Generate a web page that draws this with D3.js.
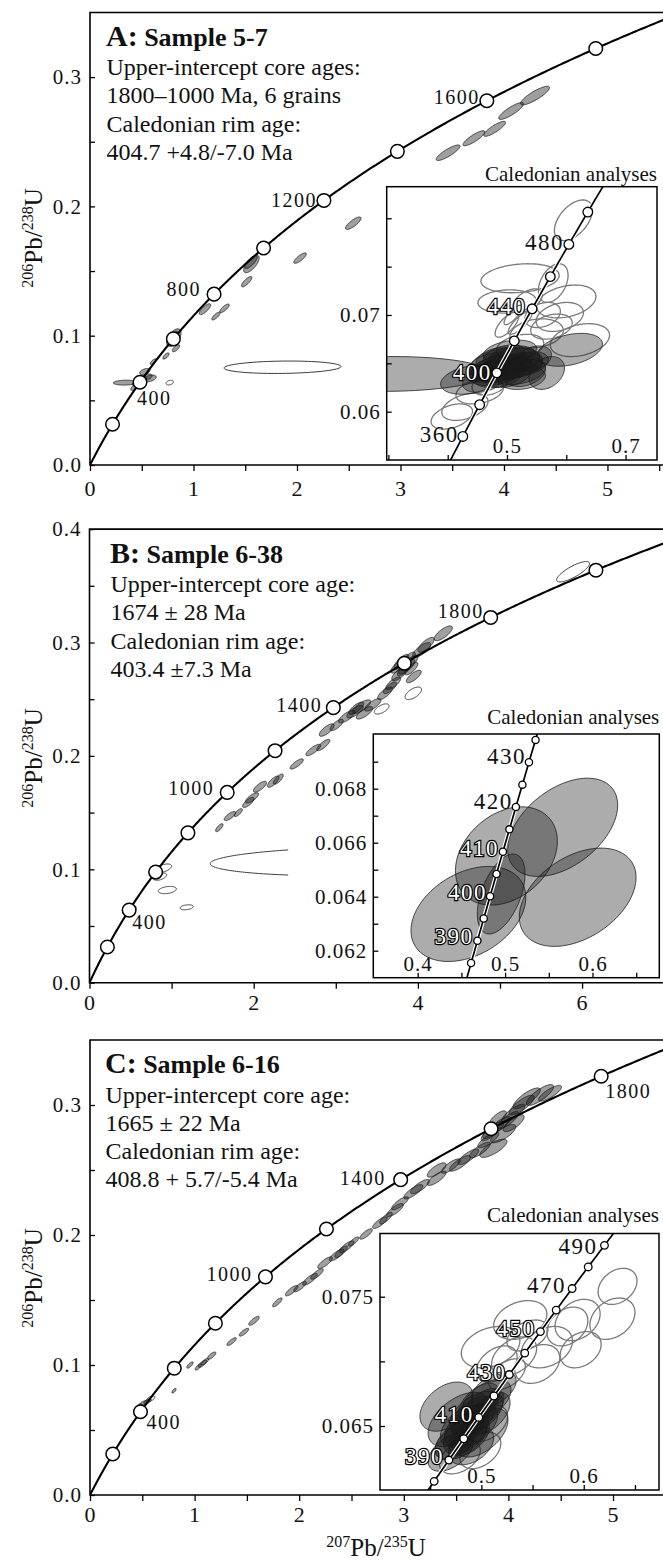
<!DOCTYPE html>
<html>
<head>
<meta charset="utf-8">
<script src="https://cdn.jsdelivr.net/npm/d3@7"></script>
<style>
  body { margin: 0; background: #fff; }
  svg { display: block; }
</style>
</head>
<body>
<script>
// U decay constants (1/yr) for the concordia curve
const L238 = 1.55125e-10, L235 = 9.8485e-10;

// ---------- data: panel A (sample 5-7) ----------
const titleA = ["A:", " Sample 5-7"];
const notesA = ["Upper-intercept core ages:", "1800\u20131000 Ma, 6 grains", "Caledonian rim age:", "404.7 +4.8/-7.0 Ma"];
const xTicksA = [0, 0.5, 1, 1.5, 2, 2.5, 3, 3.5, 4, 4.5, 5, 5.5];
const xLabelsA = [0, 1, 2, 3, 4, 5];
const yTicksA = [0, 0.05, 0.1, 0.15, 0.2, 0.25, 0.3];
const yLabelsA = [0, 0.1, 0.2, 0.3];
const agesA = [200, 400, 600, 800, 1000, 1200, 1400, 1600, 1800];
const ageLabelsA = [400, 800, 1200, 1600];
// [207Pb/235U, 206Pb/238U, err x, err y, rho, filled]
const ellipsesA = [
  [1.86, 0.0756, 0.565, 0.0048, 0.12, 0],
  [2.544, 0.187, 0.075, 0.0048, 0.8, 1],
  [2.03, 0.160, 0.06, 0.004, 0.8, 1],
  [1.56, 0.1555, 0.075, 0.0068, 0.7, 1],
  [1.555, 0.157, 0.06, 0.005, 0.75, 1],
  [1.514, 0.1418, 0.05, 0.004, 0.8, 1],
  [1.111, 0.1205, 0.055, 0.0042, 0.78, 1],
  [1.217, 0.1152, 0.04, 0.003, 0.78, 1],
  [1.30, 0.1212, 0.045, 0.0033, 0.78, 1],
  [0.81, 0.0985, 0.07, 0.0068, 0.55, 1],
  [0.80, 0.099, 0.05, 0.0045, 0.7, 1],
  [0.831, 0.0903, 0.035, 0.0027, 0.7, 1],
  [0.734, 0.0843, 0.03, 0.0024, 0.7, 1],
  [0.612, 0.0799, 0.03, 0.0022, 0.7, 1],
  [0.34, 0.0637, 0.115, 0.0019, 0.1, 1],
  [0.53, 0.0722, 0.05, 0.0024, 0.45, 1],
  [0.58, 0.067, 0.06, 0.0026, 0.4, 1],
  [0.46, 0.0635, 0.05, 0.0026, 0.45, 1],
  [0.43, 0.0600, 0.035, 0.0024, 0.55, 1],
  [0.50, 0.066, 0.045, 0.0026, 0.45, 1],
  [0.55, 0.068, 0.05, 0.0024, 0.4, 1],
  [0.77, 0.0637, 0.035, 0.0018, 0.3, 0],
  [3.46, 0.2415, 0.115, 0.006, 0.85, 1],
  [3.71, 0.2527, 0.105, 0.0058, 0.85, 1],
  [3.91, 0.2600, 0.105, 0.0058, 0.85, 1],
  [4.07, 0.2738, 0.12, 0.0065, 0.85, 1],
  [4.30, 0.2857, 0.14, 0.0072, 0.85, 1]
];
const insetXTicksA = [0.3, 0.4, 0.5, 0.6, 0.7];
const insetXLabelsA = [0.5, 0.7];
const insetYTicksA = [0.06, 0.065, 0.07, 0.075, 0.08];
const insetYLabelsA = [0.06, 0.07];
const insetAgesA = [360, 380, 400, 420, 440, 460, 480, 500];
const insetAgeLabelsA = [360, 400, 440, 480];
const insetEllipsesA = [
  [0.30, 0.0639, 0.17, 0.0018, 0.05, 1],
  [0.606, 0.0664, 0.055, 0.0017, 0.35, 1],
  [0.567, 0.0640, 0.030, 0.0017, 0.3, 1],
  [0.438, 0.0633, 0.050, 0.0015, 0.3, 1],
  [0.50, 0.0650, 0.06, 0.0016, 0.2, 1],
  [0.49, 0.0645, 0.05, 0.0014, 0.3, 1],
  [0.51, 0.0652, 0.045, 0.0014, 0.3, 1],
  [0.48, 0.0640, 0.045, 0.0013, 0.3, 1],
  [0.52, 0.0648, 0.04, 0.0013, 0.3, 1],
  [0.50, 0.0638, 0.04, 0.0013, 0.3, 1],
  [0.495, 0.0658, 0.035, 0.0011, 0.4, 1],
  [0.46, 0.0632, 0.035, 0.0012, 0.3, 1],
  [0.53, 0.0640, 0.035, 0.0014, 0.3, 1],
  [0.545, 0.0655, 0.03, 0.0013, 0.3, 1],
  [0.505, 0.0662, 0.045, 0.0012, 0.3, 1],
  [0.475, 0.0648, 0.04, 0.0013, 0.3, 1],
  [0.525, 0.0635, 0.04, 0.0012, 0.2, 1],
  [0.515, 0.0643, 0.05, 0.0015, 0.2, 1],
  [0.488, 0.0655, 0.04, 0.0012, 0.3, 1],
  [0.498, 0.0646, 0.045, 0.0012, 0.3, 1],
  [0.508, 0.0656, 0.04, 0.0012, 0.3, 1],
  [0.485, 0.0636, 0.04, 0.0011, 0.3, 1],
  [0.535, 0.0650, 0.035, 0.0012, 0.3, 1],
  [0.470, 0.0642, 0.035, 0.0012, 0.3, 1],
  [0.612, 0.0798, 0.032, 0.0021, 0.5, 0],
  [0.522, 0.0738, 0.066, 0.0015, 0.2, 0],
  [0.578, 0.0733, 0.025, 0.0020, 0.4, 0],
  [0.500, 0.0714, 0.049, 0.0012, 0.1, 0],
  [0.600, 0.0714, 0.050, 0.0017, 0.3, 0],
  [0.589, 0.0698, 0.040, 0.0015, 0.3, 0],
  [0.623, 0.0674, 0.050, 0.0017, 0.3, 0],
  [0.550, 0.0681, 0.045, 0.0015, 0.2, 0],
  [0.522, 0.0667, 0.040, 0.0013, 0.3, 0],
  [0.429, 0.0605, 0.039, 0.0014, 0.4, 0],
  [0.454, 0.0621, 0.040, 0.0013, 0.3, 0],
  [0.407, 0.0595, 0.035, 0.0013, 0.4, 0],
  [0.471, 0.0629, 0.030, 0.0012, 0.3, 0],
  [0.522, 0.0692, 0.020, 0.0012, 0.8, 0],
  [0.510, 0.0700, 0.015, 0.0010, 0.8, 0],
  [0.535, 0.0715, 0.025, 0.0012, 0.5, 0],
  [0.560, 0.0700, 0.030, 0.0013, 0.3, 0],
  [0.575, 0.0688, 0.035, 0.0013, 0.3, 0],
  [0.500, 0.0690, 0.020, 0.0013, 0.7, 0]
];

// ---------- data: panel B (sample 6-38) ----------
const titleB = ["B:", " Sample 6-38"];
const notesB = ["Upper-intercept core age:", "1674 \u00b1 28 Ma", "Caledonian rim age:", "403.4 \u00b17.3 Ma"];
const xTicksB = [0, 1, 2, 3, 4, 5, 6, 7];
const xLabelsB = [0, 2, 4, 6];
const yTicksB = [0, 0.05, 0.1, 0.15, 0.2, 0.25, 0.3, 0.35, 0.4];
const yLabelsB = [0, 0.1, 0.2, 0.3, 0.4];
const agesB = [200, 400, 600, 800, 1000, 1200, 1400, 1600, 1800, 2000];
const ageLabelsB = [400, 1000, 1400, 1800];
const ellipsesB = [
  [0.948, 0.0817, 0.11, 0.0032, 0.3, 0],
  [1.184, 0.0665, 0.08, 0.0022, 0.3, 0],
  [0.90, 0.1009, 0.10, 0.0038, 0.5, 0],
  [0.86, 0.0935, 0.08, 0.0032, 0.5, 0],
  [3.3, 0.107, 1.83, 0.0128, 0.16, 0, 2.42],
  [0.49, 0.0655, 0.08, 0.0024, 0.4, 0],
  [0.50, 0.0640, 0.07, 0.0022, 0.4, 0],
  [0.47, 0.0660, 0.06, 0.002, 0.3, 1],
  [1.581, 0.1367, 0.045, 0.0035, 0.75, 1],
  [1.711, 0.1470, 0.07, 0.004, 0.75, 1],
  [1.812, 0.1500, 0.05, 0.0035, 0.75, 1],
  [1.935, 0.1590, 0.07, 0.0045, 0.75, 1],
  [1.98, 0.1630, 0.08, 0.0045, 0.75, 1],
  [2.077, 0.1728, 0.08, 0.0048, 0.75, 1],
  [2.239, 0.1773, 0.07, 0.005, 0.75, 1],
  [2.30, 0.1795, 0.06, 0.0045, 0.75, 1],
  [2.524, 0.1929, 0.08, 0.0045, 0.8, 1],
  [2.726, 0.2052, 0.09, 0.005, 0.8, 1],
  [2.848, 0.2096, 0.08, 0.005, 0.8, 1],
  [2.889, 0.2228, 0.09, 0.0055, 0.75, 1],
  [3.011, 0.2273, 0.08, 0.005, 0.75, 1],
  [3.133, 0.2346, 0.10, 0.0055, 0.75, 1],
  [3.234, 0.2390, 0.10, 0.0055, 0.75, 1],
  [3.315, 0.2434, 0.11, 0.006, 0.75, 1],
  [3.35, 0.2380, 0.10, 0.0055, 0.75, 1],
  [3.45, 0.2450, 0.10, 0.0055, 0.75, 1],
  [3.25, 0.2420, 0.09, 0.0055, 0.75, 1],
  [3.559, 0.2414, 0.09, 0.0045, 0.6, 0],
  [3.944, 0.2552, 0.10, 0.0055, 0.6, 0],
  [3.60, 0.2552, 0.09, 0.0055, 0.75, 1],
  [3.70, 0.2640, 0.09, 0.0055, 0.75, 1],
  [3.66, 0.2600, 0.08, 0.005, 0.75, 1],
  [3.782, 0.2728, 0.10, 0.0065, 0.75, 1],
  [3.863, 0.2787, 0.10, 0.0065, 0.75, 1],
  [3.83, 0.2760, 0.08, 0.0055, 0.75, 1],
  [3.90, 0.2820, 0.10, 0.0065, 0.75, 1],
  [3.95, 0.2700, 0.09, 0.0055, 0.75, 1],
  [3.80, 0.2830, 0.09, 0.0065, 0.75, 1],
  [3.88, 0.2850, 0.09, 0.0065, 0.75, 1],
  [3.76, 0.2790, 0.09, 0.006, 0.75, 1],
  [3.92, 0.2770, 0.08, 0.0055, 0.75, 1],
  [4.046, 0.2934, 0.11, 0.0065, 0.75, 1],
  [4.10, 0.2980, 0.10, 0.0065, 0.75, 1],
  [4.31, 0.3081, 0.11, 0.0065, 0.75, 1],
  [5.89, 0.3624, 0.20, 0.009, 0.8, 0]
];
const insetXTicksB = [0.4, 0.45, 0.5, 0.55, 0.6, 0.65];
const insetXLabelsB = [0.4, 0.5, 0.6];
const insetYTicksB = [0.062, 0.063, 0.064, 0.065, 0.066, 0.067, 0.068, 0.069];
const insetYLabelsB = [0.062, 0.064, 0.066, 0.068];
const insetAgesB = [385, 390, 395, 400, 405, 410, 415, 420, 425, 430, 435];
const insetAgeLabelsB = [390, 400, 410, 420, 430];
const insetEllipsesB = [
  [0.5659, 0.06657, 0.0629, 0.00182, 0.45, 1],
  [0.583, 0.06398, 0.0668, 0.00182, 0.4, 1],
  [0.5015, 0.06551, 0.0583, 0.00182, 0.3, 1],
  [0.458, 0.06336, 0.0657, 0.00176, 0.35, 1],
  [0.4955, 0.0641, 0.0273, 0.00148, 0.5, 1]
];

// ---------- data: panel C (sample 6-16) ----------
const titleC = ["C:", " Sample 6-16"];
const notesC = ["Upper-intercept core age:", "1665 \u00b1 22 Ma", "Caledonian rim age:", "408.8 + 5.7/-5.4 Ma"];
const xTicksC = [0, 0.5, 1, 1.5, 2, 2.5, 3, 3.5, 4, 4.5, 5, 5.5];
const xLabelsC = [0, 1, 2, 3, 4, 5];
const yTicksC = [0, 0.05, 0.1, 0.15, 0.2, 0.25, 0.3];
const yLabelsC = [0, 0.1, 0.2, 0.3];
const agesC = [200, 400, 600, 800, 1000, 1200, 1400, 1600, 1800];
const ageLabelsC = [400, 1000, 1400, 1800];
const ellipsesC = [
  [0.803, 0.0802, 0.02, 0.0018, 0.7, 1],
  [0.956, 0.1000, 0.03, 0.0024, 0.75, 1],
  [1.036, 0.0985, 0.03, 0.0024, 0.75, 1],
  [1.075, 0.1010, 0.04, 0.0028, 0.75, 1],
  [1.099, 0.1026, 0.035, 0.0024, 0.75, 1],
  [1.163, 0.1072, 0.04, 0.0028, 0.75, 1],
  [1.354, 0.1180, 0.045, 0.003, 0.8, 1],
  [1.472, 0.1252, 0.045, 0.003, 0.8, 1],
  [1.568, 0.1340, 0.05, 0.0034, 0.8, 1],
  [1.791, 0.1482, 0.045, 0.0034, 0.8, 1],
  [1.928, 0.1572, 0.06, 0.004, 0.8, 1],
  [2.008, 0.1603, 0.06, 0.004, 0.8, 1],
  [2.103, 0.1659, 0.07, 0.0045, 0.8, 1],
  [2.17, 0.1700, 0.06, 0.004, 0.8, 1],
  [2.247, 0.1787, 0.07, 0.0045, 0.8, 1],
  [2.358, 0.1846, 0.07, 0.0045, 0.8, 1],
  [2.40, 0.1870, 0.06, 0.0045, 0.8, 1],
  [2.454, 0.1910, 0.07, 0.0045, 0.8, 1],
  [2.52, 0.1950, 0.05, 0.0035, 0.8, 1],
  [2.639, 0.2008, 0.06, 0.004, 0.8, 1],
  [2.772, 0.2095, 0.07, 0.0045, 0.8, 1],
  [2.83, 0.2130, 0.06, 0.0045, 0.8, 1],
  [2.916, 0.2192, 0.08, 0.005, 0.8, 1],
  [2.964, 0.2244, 0.08, 0.005, 0.8, 1],
  [3.091, 0.2333, 0.09, 0.0055, 0.8, 1],
  [3.155, 0.2372, 0.09, 0.0055, 0.8, 1],
  [3.314, 0.2436, 0.09, 0.0055, 0.8, 1],
  [3.314, 0.2500, 0.09, 0.0055, 0.75, 1],
  [3.45, 0.2530, 0.09, 0.0055, 0.8, 1],
  [3.537, 0.2551, 0.10, 0.006, 0.8, 1],
  [3.617, 0.2602, 0.10, 0.006, 0.8, 1],
  [3.728, 0.2654, 0.10, 0.006, 0.8, 1],
  [3.856, 0.2667, 0.13, 0.007, 0.75, 1],
  [3.808, 0.2731, 0.10, 0.006, 0.8, 1],
  [3.856, 0.2808, 0.10, 0.0065, 0.8, 1],
  [3.92, 0.2846, 0.10, 0.0065, 0.8, 1],
  [3.999, 0.2885, 0.10, 0.0065, 0.8, 1],
  [4.047, 0.2936, 0.11, 0.007, 0.8, 1],
  [4.127, 0.3000, 0.12, 0.0075, 0.8, 1],
  [4.175, 0.3051, 0.13, 0.008, 0.8, 1],
  [4.302, 0.3077, 0.13, 0.008, 0.8, 1],
  [4.398, 0.3090, 0.11, 0.006, 0.8, 1],
  [3.95, 0.2780, 0.12, 0.007, 0.75, 1],
  [3.82, 0.2780, 0.08, 0.0055, 0.75, 1],
  [4.05, 0.2860, 0.10, 0.0065, 0.75, 1],
  [3.90, 0.2900, 0.08, 0.0055, 0.75, 1],
  [0.51, 0.0705, 0.04, 0.0022, 0.65, 1],
  [0.55, 0.0720, 0.035, 0.0022, 0.65, 1],
  [0.47, 0.0680, 0.03, 0.0022, 0.65, 1],
  [0.58, 0.0740, 0.04, 0.0022, 0.6, 0]
];
const insetXTicksC = [0.45, 0.5, 0.55, 0.6, 0.65];
const insetXLabelsC = [0.5, 0.6];
const insetYTicksC = [0.065, 0.07, 0.075];
const insetYLabelsC = [0.065, 0.075];
const insetAgesC = [380, 390, 400, 410, 420, 430, 440, 450, 460, 470, 480, 490];
const insetAgeLabelsC = [390, 410, 430, 450, 470, 490];
const insetEllipsesC = [
  [0.470, 0.0630, 0.022, 0.0015, 0.5, 1],
  [0.480, 0.0640, 0.025, 0.0016, 0.5, 1],
  [0.490, 0.0650, 0.026, 0.0017, 0.5, 1],
  [0.495, 0.0660, 0.026, 0.0017, 0.5, 1],
  [0.505, 0.0670, 0.024, 0.0016, 0.5, 1],
  [0.512, 0.0678, 0.022, 0.0014, 0.5, 1],
  [0.466, 0.0665, 0.026, 0.0019, 0.4, 1],
  [0.500, 0.0645, 0.026, 0.0019, 0.5, 1],
  [0.478, 0.0655, 0.030, 0.0021, 0.5, 1],
  [0.490, 0.0635, 0.022, 0.0015, 0.4, 1],
  [0.485, 0.0645, 0.022, 0.0017, 0.5, 1],
  [0.498, 0.0668, 0.020, 0.0015, 0.5, 1],
  [0.475, 0.0638, 0.020, 0.0014, 0.5, 1],
  [0.508, 0.0660, 0.020, 0.0016, 0.5, 1],
  [0.482, 0.0650, 0.022, 0.0016, 0.5, 1],
  [0.492, 0.0657, 0.022, 0.0016, 0.5, 1],
  [0.488, 0.0642, 0.020, 0.0015, 0.5, 1],
  [0.502, 0.0664, 0.020, 0.0015, 0.5, 1],
  [0.633, 0.0758, 0.019, 0.0014, 0.3, 0],
  [0.628, 0.0733, 0.022, 0.0016, 0.3, 0],
  [0.594, 0.0732, 0.022, 0.0016, 0.3, 0],
  [0.538, 0.0732, 0.026, 0.0015, 0.3, 0],
  [0.509, 0.0711, 0.0286, 0.0016, 0.3, 0],
  [0.564, 0.0711, 0.025, 0.0016, 0.3, 0],
  [0.5546, 0.0698, 0.022, 0.0015, 0.3, 0],
  [0.532, 0.0704, 0.022, 0.0015, 0.4, 0],
  [0.515, 0.0698, 0.020, 0.0014, 0.4, 0],
  [0.584, 0.0727, 0.020, 0.0015, 0.3, 0],
  [0.499, 0.0631, 0.020, 0.0014, 0.4, 0],
  [0.479, 0.0626, 0.020, 0.0013, 0.4, 0],
  [0.5056, 0.0652, 0.020, 0.0014, 0.4, 0],
  [0.597, 0.0709, 0.020, 0.0014, 0.3, 0],
  [0.545, 0.0720, 0.020, 0.0012, 0.4, 0],
  [0.525, 0.0690, 0.018, 0.0012, 0.5, 0]
];

// ---------- layout (pixels) ----------
const SERIF = "'Liberation Serif', 'Times New Roman', serif";
const W = 663, H = 1561;

const panels = [
  {
    id: "A", title: titleA, notes: notesA, titleX: 106, titleY: 45.7, notesY: 75, lineH: 28.4,
    yTitleY: 238,
    xDomain: [0, 5.556], xRange: [90, 665], yDomain: [0, 0.35], yRange: [465, 12.45],
    xTicks: xTicksA, xLabels: xLabelsA, xFmt: d3.format("d"), xPad: 9,
    yTicks: yTicksA, yLabels: yLabelsA, yFmt: d3.format(".1f"),
    ages: agesA, ageLabels: ageLabelsA, ellipses: ellipsesA,
    labelPos: { 400: ["start", -3, 23], 800: ["end", -13, 2], 1200: ["end", -7, 7], 1600: ["end", -7, 3] },
    inset: {
      xDomain: [0.2971, 0.7530], xRange: [386.7, 657], yDomain: [0.0550, 0.08327], yRange: [460, 186.7],
      xTicks: insetXTicksA, xLabels: insetXLabelsA, xFmt: d3.format(".1f"),
      yTicks: insetYTicksA, yLabels: insetYLabelsA, yFmt: d3.format(".2f"),
      ages: insetAgesA, ageLabels: insetAgeLabelsA, ellipses: insetEllipsesA, r: 4.8, capY: 180.7,
      labelPos: { 360: ["end", -4, 6, 0], 400: ["end", -5, 7, 1], 440: ["end", -6, 5, 1], 480: ["end", -5, 6, 0] }
    }
  },
  {
    id: "B", title: titleB, notes: notesB, titleX: 110, titleY: 562.7, notesY: 591.7, lineH: 28.4,
    yTitleY: 758,
    xDomain: [0, 7.01], xRange: [89.5, 665], yDomain: [0, 0.4], yRange: [982.7, 529.1],
    xTicks: xTicksB, xLabels: xLabelsB, xFmt: d3.format("d"), xPad: 5.5,
    yTicks: yTicksB, yLabels: yLabelsB, yFmt: d3.format(".1f"),
    ages: agesB, ageLabels: ageLabelsB, ellipses: ellipsesB,
    labelPos: { 400: ["start", 3, 19], 1000: ["end", -13, 3], 1400: ["end", -11, 4], 1800: ["end", -7, 1] },
    inset: {
      xDomain: [0.3492, 0.6764], xRange: [373.3, 659.3], yDomain: [0.0610, 0.070026], yRange: [977.7, 734],
      xTicks: insetXTicksB, xLabels: insetXLabelsB, xFmt: d3.format(".1f"),
      yTicks: insetYTicksB, yLabels: insetYLabelsB, yFmt: d3.format(".3f"),
      ages: insetAgesB, ageLabels: insetAgeLabelsB, ellipses: insetEllipsesB, r: 3.6, capY: 724.3,
      labelPos: { 390: ["end", -4, 3, 1], 400: ["end", -3, 4, 1], 410: ["end", -4, 4, 1], 420: ["end", -3, 2, 0], 430: ["end", -3, 2, 0] }
    }
  },
  {
    id: "C", title: titleC, notes: notesC, titleX: 105, titleY: 1073.3, notesY: 1102.7, lineH: 28.2,
    yTitleY: 1278,
    xDomain: [0, 5.497], xRange: [90, 665], yDomain: [0, 0.35], yRange: [1495, 1040],
    xTicks: xTicksC, xLabels: xLabelsC, xFmt: d3.format("d"), xPad: 5.5,
    yTicks: yTicksC, yLabels: yLabelsC, yFmt: d3.format(".1f"),
    ages: agesC, ageLabels: ageLabelsC, ellipses: ellipsesC,
    labelPos: { 400: ["start", 6, 17], 1000: ["end", -13, 4], 1400: ["end", -15, 5], 1800: ["start", 4, 22] },
    inset: {
      xDomain: [0.401, 0.6735], xRange: [380, 659], yDomain: [0.06005, 0.07989], yRange: [1490, 1233.5],
      xTicks: insetXTicksC, xLabels: insetXLabelsC, xFmt: d3.format(".1f"),
      yTicks: insetYTicksC, yLabels: insetYLabelsC, yFmt: d3.format(".3f"),
      ages: insetAgesC, ageLabels: insetAgeLabelsC, ellipses: insetEllipsesC, r: 3.8, capY: 1221.7,
      labelPos: { 390: ["end", -5, 4, 1], 410: ["end", -5, 5, 1], 430: ["end", -3, 5, 1], 450: ["end", -5, 4, 1], 470: ["end", -6, 4, 0], 490: ["end", -7, 9, 0] }
    }
  }
];

// ---------- helpers ----------
function concordia(t) {
  return [Math.expm1(L235 * t * 1e6), Math.expm1(L238 * t * 1e6)];
}

function ellipsePath(e, x, y) {
  const [cx, cy, sx, sy, rho, , maxX] = e;
  const k = Math.sqrt(1 - rho * rho);
  let t0 = 0, t1 = 2 * Math.PI, closed = true, n = 96;
  if (maxX !== undefined) {
    t0 = Math.acos((maxX - cx) / sx);
    t1 = 2 * Math.PI - t0;
    closed = false;
  }
  const pts = d3.range(closed ? n : n + 1).map(i => {
    const t = t0 + (t1 - t0) * i / n;
    const c = Math.cos(t), s = Math.sin(t);
    return [x(cx + sx * c), y(cy + sy * (rho * c + k * s))];
  });
  return (closed ? d3.line().curve(d3.curveLinearClosed) : d3.line())(pts);
}

const has = (arr, v) => arr.some(a => Math.abs(a - v) < 1e-9);

const svg = d3.select("body").append("svg")
  .attr("width", W).attr("height", H)
  .style("font-family", SERIF);

function drawPlot(g, p, clipId, isInset) {
  const x = d3.scaleLinear().domain(p.xDomain).range(p.xRange);
  const y = d3.scaleLinear().domain(p.yDomain).range(p.yRange);
  const [L, R] = p.xRange, [B, T] = p.yRange;

  svg.append("clipPath").attr("id", clipId)
    .append("rect").attr("x", L).attr("y", T).attr("width", R - L).attr("height", B - T);

  if (isInset) {
    g.append("rect").attr("x", L).attr("y", T).attr("width", R - L).attr("height", B - T)
      .attr("fill", "#fff");
  }

  const plot = g.append("g").attr("clip-path", `url(#${clipId})`);

  // error ellipses: open ones first, filled on top
  const order = p.ellipses.slice().sort((a, b) => a[5] - b[5]);
  plot.selectAll("path.ell").data(order).join("path")
    .attr("class", "ell")
    .attr("d", d => ellipsePath(d, x, y))
    .attr("fill", d => d[5] ? "#1a1a1a" : "none")
    .attr("fill-opacity", d => d[5] ? (isInset ? 0.36 : 0.42) : null)
    .attr("stroke", d => d[5] ? "#1f1f1f" : (isInset ? "#7a7a7a" : "#3a3a3a"))
    .attr("stroke-width", d => d[5] ? 0.8 : (isInset ? 1.3 : 1));

  // concordia curve
  const tRange = isInset ? d3.range(300, 561, 1) : d3.range(0, 2400, 4);
  const line = d3.line().x(t => x(concordia(t)[0])).y(t => y(concordia(t)[1]));
  if (isInset) {
    plot.append("path").attr("d", line(tRange)).attr("fill", "none")
      .attr("stroke", "#fff").attr("stroke-width", 4);
  }
  plot.append("path").attr("d", line(tRange)).attr("fill", "none")
    .attr("stroke", "#000").attr("stroke-width", isInset ? 1.7 : 2.1);

  // age markers
  plot.selectAll("circle.age").data(p.ages).join("circle")
    .attr("class", "age")
    .attr("cx", t => x(concordia(t)[0]))
    .attr("cy", t => y(concordia(t)[1]))
    .attr("r", isInset ? p.r : 6.8)
    .attr("fill", "#fff").attr("stroke", "#000").attr("stroke-width", isInset ? 1.3 : 1.5);

  // age labels
  g.selectAll("text.age").data(p.ageLabels).join("text")
    .attr("class", "age")
    .attr("x", t => x(concordia(t)[0]) + p.labelPos[t][1])
    .attr("y", t => y(concordia(t)[1]) + p.labelPos[t][2])
    .attr("text-anchor", t => p.labelPos[t][0])
    .attr("font-size", isInset ? 23 : 20)
    .attr("letter-spacing", 1.5)
    .attr("fill", t => (isInset && p.labelPos[t][3]) ? "#fff" : "#111")
    .attr("stroke", t => (isInset && p.labelPos[t][3]) ? "#000" : "none")
    .attr("stroke-width", 2.4)
    .attr("paint-order", "stroke")
    .text(t => t);

  // axes
  const xAxisGen = isInset
    ? d3.axisBottom(x).tickSize(-5).tickPadding(0)
    : d3.axisBottom(x).tickSize(6).tickPadding(p.xPad);
  const xAxis = g.append("g").attr("transform", `translate(0,${B})`)
    .call(xAxisGen.tickValues(p.xTicks).tickSizeOuter(0)
      .tickFormat(d => has(p.xLabels, d) ? p.xFmt(d) : ""));
  xAxis.select(".domain").remove();
  xAxis.attr("font-family", null).attr("font-size", isInset ? 21 : 22);
  xAxis.selectAll("line").attr("stroke", "#000").attr("stroke-width", 1.3);
  xAxis.selectAll("text").attr("fill", "#111").attr("letter-spacing", 1);
  if (isInset) xAxis.selectAll("text").attr("y", -7).attr("dy", 0);

  const yAxis = g.append("g").attr("transform", `translate(${L},0)`)
    .call(d3.axisLeft(y).tickValues(p.yTicks).tickSize(-5).tickSizeOuter(0)
      .tickPadding(isInset ? 6 : 8)
      .tickFormat(d => has(p.yLabels, d) ? p.yFmt(d) : ""));
  yAxis.select(".domain").remove();
  yAxis.attr("font-family", null).attr("font-size", 21);
  yAxis.selectAll("line").attr("stroke", "#000").attr("stroke-width", 1.3);
  yAxis.selectAll("text").attr("fill", "#111").attr("letter-spacing", 1);

  // frame
  if (isInset) {
    g.append("rect").attr("x", L).attr("y", T).attr("width", R - L).attr("height", B - T)
      .attr("fill", "none").attr("stroke", "#000").attr("stroke-width", 1.5);
  } else {
    g.append("path").attr("d", `M${R},${T}H${L}V${B}H${R}`)
      .attr("fill", "none").attr("stroke", "#000").attr("stroke-width", 1.6);
  }
  return { x, y };
}

function isotopeLabel(sel, m1, el, m2, el2, big, small) {
  sel.append("tspan").attr("font-size", small).attr("dy", -9).text(m1);
  sel.append("tspan").attr("font-size", big).attr("dy", 9).text(el);
  sel.append("tspan").attr("font-size", small).attr("dy", -9).text(m2);
  sel.append("tspan").attr("font-size", big).attr("dy", 9).text(el2);
}

panels.forEach(p => {
  const g = svg.append("g");
  drawPlot(g, p, "clip" + p.id, false);

  // title + notes
  const t = g.append("text").attr("x", p.titleX).attr("y", p.titleY)
    .attr("font-weight", "bold").attr("fill", "#111");
  t.append("tspan").attr("font-size", 30).text(p.title[0]);
  t.append("tspan").attr("font-size", 26).text(p.title[1]);
  g.selectAll("text.note").data(p.notes).join("text")
    .attr("class", "note")
    .attr("x", p.titleX + 0.5)
    .attr("y", (d, i) => p.notesY + i * p.lineH)
    .attr("font-size", 24).attr("fill", "#111")
    .text(d => d);

  // y axis title
  const yt = g.append("text")
    .attr("transform", `translate(42,${p.yTitleY}) rotate(-90)`)
    .attr("text-anchor", "middle").attr("fill", "#111");
  isotopeLabel(yt, "206", "Pb/", "238", "U", 25, 16);

  // inset
  const gi = svg.append("g");
  drawPlot(gi, p.inset, "clipI" + p.id, true);
  gi.append("text").attr("x", p.inset.xRange[1]).attr("y", p.inset.capY)
    .attr("text-anchor", "end").attr("font-size", 21).attr("fill", "#111")
    .text("Caledonian analyses");
});

// shared x axis title under the last panel
const xt = svg.append("text")
  .attr("x", 376).attr("y", 1556)
  .attr("text-anchor", "middle").attr("fill", "#111");
isotopeLabel(xt, "207", "Pb/", "235", "U", 25, 16);
</script>
</body>
</html>
